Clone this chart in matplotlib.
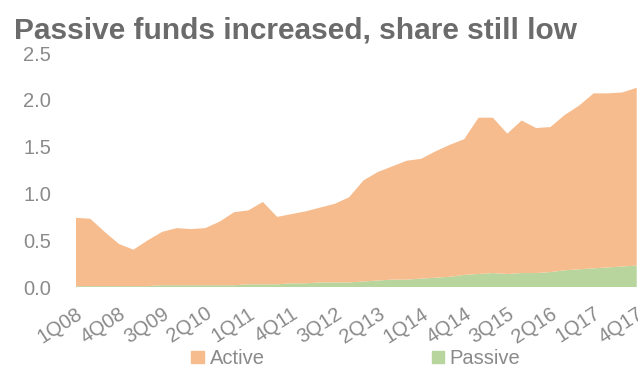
import matplotlib
matplotlib.use("Agg")
import matplotlib.pyplot as plt
from matplotlib.patches import Patch

plt.rcParams["font.family"] = ["Liberation Sans", "DejaVu Sans"]

# quarterly series, 1Q08 .. 4Q17
quarters = [f"{q}Q{y:02d}" for y in range(8, 18) for q in range(1, 5)]
passive = [0.01, 0.01, 0.01, 0.01, 0.01, 0.01, 0.02, 0.02, 0.02, 0.02,
           0.02, 0.02, 0.03, 0.03, 0.03, 0.04, 0.04, 0.05, 0.05, 0.05,
           0.06, 0.07, 0.08, 0.08, 0.09, 0.10, 0.11, 0.13, 0.14, 0.15,
           0.14, 0.15, 0.15, 0.16, 0.18, 0.19, 0.20, 0.21, 0.22, 0.23]
active = [0.73, 0.72, 0.58, 0.45, 0.39, 0.49, 0.57, 0.61, 0.60, 0.61,
          0.68, 0.78, 0.79, 0.88, 0.72, 0.74, 0.77, 0.80, 0.84, 0.91,
          1.08, 1.16, 1.21, 1.27, 1.28, 1.35, 1.41, 1.45, 1.67, 1.66,
          1.50, 1.63, 1.55, 1.55, 1.66, 1.75, 1.87, 1.86, 1.86, 1.90]
series_names = ["Active", "Passive"]

c_active = "#F7BC8D"
c_passive = "#B7D59C"
grey = "#8a8a8a"

fig = plt.figure(figsize=(6.38, 3.69), dpi=100)
ax = fig.add_axes([0.119, 0.222, 0.879, 0.634])

x = list(range(len(quarters)))
ax.stackplot(x, passive, active, colors=[c_passive, c_active], linewidth=0)

ax.set_xlim(0, len(quarters) - 1)
ax.set_ylim(0, 2.5)
ax.set_yticks([0, 0.5, 1.0, 1.5, 2.0, 2.5])
ax.set_yticklabels([f"{v:.1f}" for v in ax.get_yticks()])
ax.set_xticks(x[::3])
ax.set_xticklabels(quarters[::3], rotation=33, ha="right",
                   rotation_mode="anchor")
ax.tick_params(axis="both", length=0, colors=grey, labelsize=14.5)
ax.tick_params(axis="y", pad=18)
ax.tick_params(axis="x", pad=12)
for s in ax.spines.values():
    s.set_visible(False)

fig.text(0.022, 0.895, "Passive funds increased, share still low",
         fontsize=21.5, fontweight="bold", color="#6b6b6b", va="baseline")

handles = [Patch(color=c_active), Patch(color=c_passive)]
fig.legend(handles, series_names, loc="center", ncol=2,
           bbox_to_anchor=(0.558, 0.028), frameon=False, fontsize=14.5,
           labelcolor=grey, handlelength=0.6, handleheight=0.6,
           handletextpad=0.3, columnspacing=8.3)

fig.savefig("out.png", dpi=100, facecolor="white")
